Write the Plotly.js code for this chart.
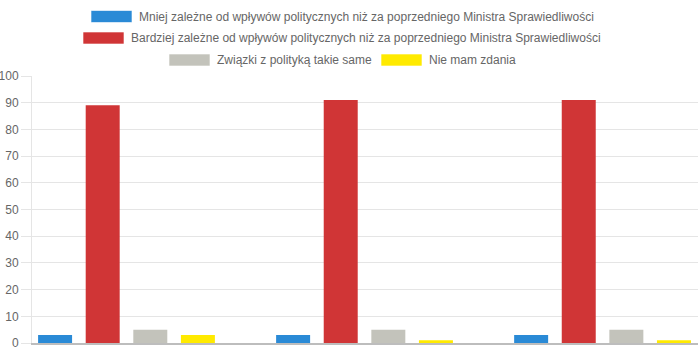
<!DOCTYPE html>
<html>
<head>
<meta charset="utf-8">
<script src="https://cdn.plot.ly/plotly-3.0.1.min.js"></script>
<style>html,body{margin:0;padding:0;background:#fff}#chart{width:698px;height:349px}</style>
</head>
<body>
<div id="chart"></div>
<script>
const categories = ['Grupa 1', 'Grupa 2', 'Grupa 3'];
const seriesNames = [
  'Mniej zależne od wpływów politycznych niż za poprzedniego Ministra Sprawiedliwości',
  'Bardziej zależne od wpływów politycznych niż za poprzedniego Ministra Sprawiedliwości',
  'Związki z polityką takie same',
  'Nie mam zdania'
];
const lessDependent = [3, 3, 3];
const moreDependent = [89, 91, 91];
const same = [5, 5, 5];
const noOpinion = [3, 1, 1];
const yTicks = [0, 10, 20, 30, 40, 50, 60, 70, 80, 90, 100];

const colors = ['#2a8ad6', '#d03536', '#c3c3bb', '#ffea00'];
const values = [lessDependent, moreDependent, same, noOpinion];

const W = 698, H = 349, L = 32, R = 0, T = 76, B = 6;
const pw = W - L - R, ph = H - T - B;
const px = x => (x - L) / pw;
const py = y => (H - B - y) / ph;

const traces = values.map((v, i) => ({
  type: 'bar',
  x: categories,
  y: v,
  name: seriesNames[i],
  marker: {color: colors[i], line: {width: 0}},
  hoverinfo: 'y+name'
}));

// custom legend layout (pixel positions of swatch left edge and row center)
const legendPos = [
  {sx: 91, cy: 16.5},
  {sx: 83, cy: 38},
  {sx: 169, cy: 60},
  {sx: 381, cy: 60}
];
const shapes = [];
const annotations = [];
legendPos.forEach((p, i) => {
  shapes.push({
    type: 'rect', xref: 'paper', yref: 'paper',
    x0: px(p.sx), x1: px(p.sx + 41), y0: py(p.cy + 6), y1: py(p.cy - 6),
    fillcolor: colors[i], line: {color: 'rgba(255,255,255,0.6)', width: 1}
  });
  annotations.push({
    xref: 'paper', yref: 'paper', x: px(p.sx + 46), y: py(p.cy),
    xanchor: 'left', yanchor: 'middle', showarrow: false,
    text: seriesNames[i],
    font: {family: 'Liberation Sans, Arial, sans-serif', size: 12, color: '#666'}
  });
});

const layout = {
  width: W, height: H,
  margin: {l: L, r: R, t: T, b: B, pad: 0},
  paper_bgcolor: '#fff', plot_bgcolor: '#fff',
  showlegend: false,
  barmode: 'group',
  bargap: 0.2,
  bargroupgap: 0.286,
  font: {family: 'Liberation Sans, Arial, sans-serif', size: 12, color: '#666'},
  xaxis: {
    type: 'category',
    range: [-0.397, 2.401],
    showticklabels: false,
    ticks: '',
    showgrid: false,
    showline: true, linecolor: '#bdbdbd', linewidth: 1.5,
    zeroline: false, fixedrange: true
  },
  yaxis: {
    range: [0, 100],
    tickvals: yTicks,
    ticktext: yTicks.map(String),
    ticks: 'outside', ticklen: 10, tickcolor: '#e5e5e5', tickwidth: 1,
    ticklabeloverflow: 'allow',
    showgrid: true, gridcolor: '#e5e5e5', gridwidth: 1,
    showline: true, linecolor: '#e5e5e5', linewidth: 1,
    zeroline: false,
    tickfont: {size: 12, color: '#666'},
    fixedrange: true
  },
  shapes: shapes,
  annotations: annotations
};

Plotly.newPlot('chart', traces, layout, {displayModeBar: false, staticPlot: true});
</script>
</body>
</html>
